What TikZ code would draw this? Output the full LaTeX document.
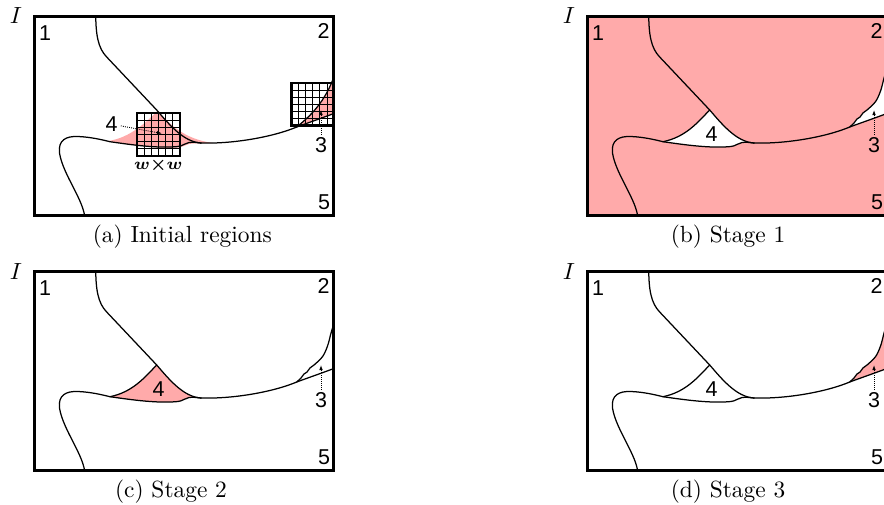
\documentclass[tikz,border=0pt]{standalone}
\usepackage{fontspec}
\usepackage{graphicx}
\newfontfamily\lblfont{Liberation Sans}
\usetikzlibrary{arrows.meta}
\definecolor{regpink}{RGB}{255,170,170}
\tikzset{
  frame/.style={line width=3pt},
  curve/.style={line width=1.25pt, line join=round, line cap=round},
  lbl/.style={font=\lblfont\fontsize{21.5}{25}\selectfont, inner sep=0pt},
  ptr/.style={line width=0.9pt, dash pattern=on 0.9pt off 1.2pt, -{Latex[length=5pt,width=3.6pt]}},
  gridouter/.style={line width=2.6pt},
  gridinner/.style={line width=0.8pt},
  Tcurve/.style={insert path={(62.7,-3) .. controls (62.7,20) and (65,33) .. (73.7,42) -- (123.7,95) .. controls (135,108) and (150,127) .. (168,128)}},
  Mcurve/.style={insert path={(168,128) .. controls (200,129) and (240,122) .. (263.7,112) .. controls (280,106) and (292,102) .. (306,96.5)}},
  Scurve/.style={insert path={(52,204) .. controls (51,185) and (30,160) .. (26.5,138) .. controls (25,125) and (33,121) .. (45,121.5) .. controls (58,122) and (70,125) .. (77,126.7)}},
  Ucurve/.style={insert path={(77,126.7) .. controls (100,122) and (112,107) .. (123.7,95)}},
  Locurve/.style={insert path={(77,126.7) .. controls (100,130) and (125,133.5) .. (145,131.5) .. controls (150,131) and (152,128) .. (156,127.5) .. controls (160,127) and (164,127.5) .. (168,128)}},
  reg4/.style={insert path={(77,126.7) .. controls (100,122) and (112,107) .. (123.7,95) .. controls (135,108) and (150,127) .. (168,128) .. controls (164,127.5) and (160,127) .. (156,127.5) .. controls (152,128) and (150,131) .. (145,131.5) .. controls (125,133.5) and (100,130) .. (77,126.7) -- cycle}},
  reg4a/.style={insert path={(74,126.2) .. controls (98,123) and (114,106) .. (124.5,96) .. controls (136,108) and (150,124) .. (180,128) .. controls (166,128) and (160,128.5) .. (156,129) .. controls (152,130) and (150,132) .. (145,132.5) .. controls (125,134) and (100,130) .. (74,126.2) -- cycle}},
  c3s/.style={insert path={(263.7,112) .. controls (280,99) and (294,84) .. (303,56)}},
  reg3s/.style={insert path={(263.7,112) .. controls (280,99) and (294,84) .. (303,56) -- (308,40) -- (308,95) -- (306,96.5) .. controls (292,102) and (280,106) .. (263.7,112) -- cycle}},
  c3w/.style={insert path={plot[smooth,tension=0.5] coordinates {(263.7,112) (268,108) (271,104) (274,102) (277,98) (281,95) (286,90.5) (290,86) (293,80) (295.5,73) (297.5,65) (299.5,58) (302,50) (304,42)}}},
  reg3w/.style={insert path={plot[smooth,tension=0.5] coordinates {(263.7,112) (268,108) (271,104) (274,102) (277,98) (281,95) (286,90.5) (290,86) (293,80) (295.5,73) (297.5,65) (299.5,58) (302,50) (304,42)} -- (308,40) -- (308,95) -- (306,96.5) .. controls (292,102) and (280,106) .. (263.7,112) -- cycle}}
}
\begin{document}
\begin{tikzpicture}[x=1pt,y=-1pt]
\useasboundingbox (0,0) rectangle (884,504);
\clip (0,0) rectangle (884,504);

% ---------------- panel (a)
\begin{scope}[shift={(33,15)}]
  \begin{scope}
    \clip (1.5,1.5) rectangle (300.5,200.5);
    \fill[regpink, reg4a];
    \fill[regpink, reg3s];
    \draw[curve, Tcurve];
    \draw[curve, Mcurve];
    \draw[curve, Scurve];
    \draw[curve, Locurve];
    \draw[curve, c3s];
  \end{scope}
  % grid windows
  \foreach \i in {1,2,3,4,5} {
    \draw[gridinner] (104+\i*43/6,98) -- (104+\i*43/6,141);
    \draw[gridinner] (104,98+\i*43/6) -- (147,98+\i*43/6);
    \draw[gridinner] (258.5+\i*42.5/6,68) -- (258.5+\i*42.5/6,110.5);
    \draw[gridinner] (258.5,68+\i*42.5/6) -- (301,68+\i*42.5/6);
  }
  \draw[gridouter] (104,98) rectangle (147,141);
  \draw[gridouter] (258.5,68) rectangle (301,110.5);
  \draw[frame] (1.5,1.5) rectangle (300.5,200.5);
  \node[lbl] (a1) at (12,18.3) {1};
  \node[lbl] (a2) at (290.5,16) {2};
  \node[lbl] (a5) at (291,187.5) {5};
  \node[lbl] (a4) at (78.7,109.2) {4};
  \node[lbl] (a3) at (288,130) {3};
  \coordinate (a4tip) at (129,118.5);
  \coordinate (a3tip) at (288,95);
  \draw[ptr, shorten <=3pt] (a4) -- (a4tip);
  \draw[ptr, shorten <=2pt] (a3) -- (a3tip);
  \node[inner sep=0pt] (aw) at (125.3,150) {\scalebox{2.34}{\scriptsize\boldmath$w{\times}w$}};
  \node[inner sep=0pt] (aI) at (-17,1) {\scalebox{2.34}{$I$}};
  \node[inner sep=0pt] (acap) at (149.3,221.7) {\scalebox{2.34}{(a) Initial regions}};
\end{scope}

% ---------------- panel (b)
\begin{scope}[shift={(586,15)}]
  \begin{scope}
    \clip (1.5,1.5) rectangle (300.5,200.5);
    \fill[regpink] (0,0) rectangle (305,205);
    \fill[white, reg4];
    \fill[white, reg3w];
    \draw[curve, Tcurve];
    \draw[curve, Mcurve];
    \draw[curve, Scurve];
    \draw[curve, Ucurve];
    \draw[curve, Locurve];
    \draw[curve, c3w];
  \end{scope}
  \draw[frame] (1.5,1.5) rectangle (300.5,200.5);
  \node[lbl] (b1) at (12,18.3) {1};
  \node[lbl] (b2) at (290.5,16) {2};
  \node[lbl] (b5) at (291,187.5) {5};
  \node[lbl] (b4) at (125.5,119.5) {4};
  \node[lbl] (b3) at (288,130) {3};
  \coordinate (b3tip) at (288,95);
  \draw[ptr, shorten <=2pt] (b3) -- (b3tip);
  \node[inner sep=0pt] (bI) at (-17,1) {\scalebox{2.34}{$I$}};
  \node[inner sep=0pt] (bcap) at (142,221.7) {\scalebox{2.34}{(b) Stage 1}};
\end{scope}

% ---------------- panel (c)
\begin{scope}[shift={(33,270)}]
  \begin{scope}
    \clip (1.5,1.5) rectangle (300.5,200.5);
    \fill[regpink, reg4];
    \draw[curve, Tcurve];
    \draw[curve, Mcurve];
    \draw[curve, Scurve];
    \draw[curve, Ucurve];
    \draw[curve, Locurve];
    \draw[curve, c3w];
  \end{scope}
  \draw[frame] (1.5,1.5) rectangle (300.5,200.5);
  \node[lbl] (c1) at (12,18.3) {1};
  \node[lbl] (c2) at (290.5,16) {2};
  \node[lbl] (c5) at (291,187.5) {5};
  \node[lbl] (c4) at (125.5,119.5) {4};
  \node[lbl] (c3) at (288,130) {3};
  \coordinate (c3tip) at (288,95);
  \draw[ptr, shorten <=2pt] (c3) -- (c3tip);
  \node[inner sep=0pt] (cI) at (-17,1) {\scalebox{2.34}{$I$}};
  \node[inner sep=0pt] (ccap) at (138,222) {\scalebox{2.34}{(c) Stage 2}};
\end{scope}

% ---------------- panel (d)
\begin{scope}[shift={(586,270)}]
  \begin{scope}
    \clip (1.5,1.5) rectangle (300.5,200.5);
    \fill[regpink, reg3w];
    \draw[curve, Tcurve];
    \draw[curve, Mcurve];
    \draw[curve, Scurve];
    \draw[curve, Ucurve];
    \draw[curve, Locurve];
    \draw[curve, c3w];
  \end{scope}
  \draw[frame] (1.5,1.5) rectangle (300.5,200.5);
  \node[lbl] (d1) at (12,18.3) {1};
  \node[lbl] (d2) at (290.5,16) {2};
  \node[lbl] (d5) at (291,187.5) {5};
  \node[lbl] (d4) at (125.5,119.5) {4};
  \node[lbl] (d3) at (288,130) {3};
  \coordinate (d3tip) at (288,95);
  \draw[ptr, shorten <=2pt] (d3) -- (d3tip);
  \node[inner sep=0pt] (dI) at (-17,1) {\scalebox{2.34}{$I$}};
  \node[inner sep=0pt] (dcap) at (142,222) {\scalebox{2.34}{(d) Stage 3}};
\end{scope}
\end{tikzpicture}
\end{document}
